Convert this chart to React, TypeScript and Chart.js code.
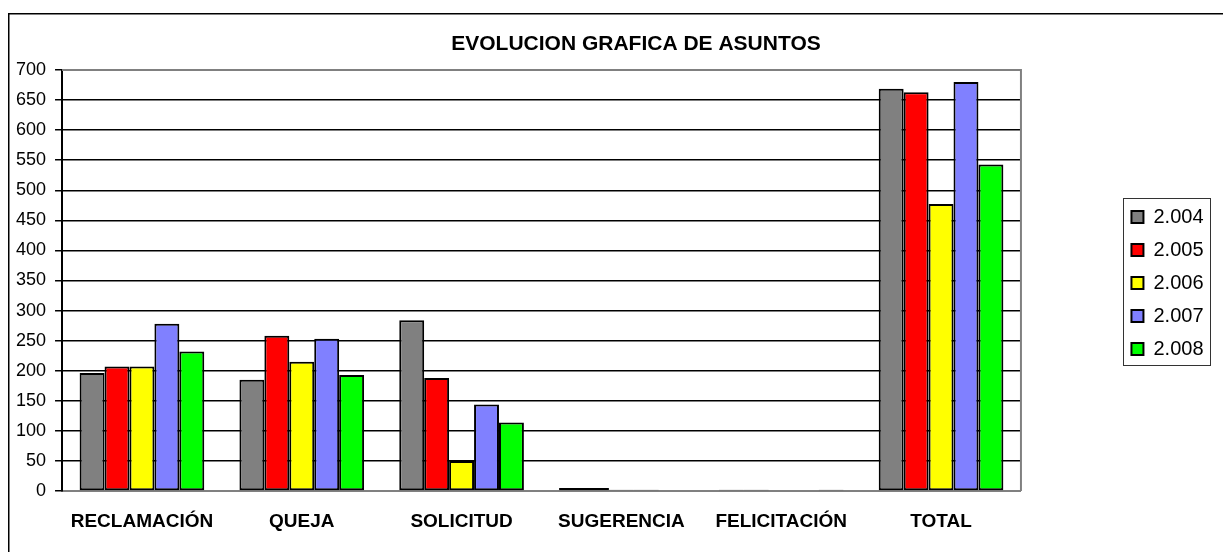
import React, { useEffect, useRef } from "react";
import { Chart, registerables } from "chart.js";

Chart.register(...registerables);

const categories = ["RECLAMACIÓN", "QUEJA", "SOLICITUD", "SUGERENCIA", "FELICITACIÓN", "TOTAL"];
const seriesNames = ["2.004", "2.005", "2.006", "2.007", "2.008"];
const values2004 = [196, 185, 284, 5, 2, 669];
const values2005 = [207, 258, 188, 5, 2, 663];
const values2006 = [207, 215, 50, 2, 0, 477];
const values2007 = [278, 253, 144, 2, 0, 680];
const values2008 = [232, 193, 114, 0, 2, 543];
const seriesColors = ["#808080", "#FF0000", "#FFFF00", "#8080FF", "#00FF00"];
const yTickMin = 0;
const yTickMax = 700;
const yTickStep = 50;
const titleText = "EVOLUCION GRAFICA DE ASUNTOS";

const FONT = "'Liberation Sans', Arial, Helvetica, sans-serif";
const TITLE_CENTER_X = 636;

const framePlugin = {
  id: "framePlugin",
  afterLayout(chart: any) {
    const t = chart.titleBlock;
    if (t) {
      const c = (t.left + t.right) / 2;
      const d = TITLE_CENTER_X - c;
      t.left += d;
      t.right += d;
    }
  },
  beforeDraw(chart: any) {
    const ctx = chart.ctx;
    ctx.save();
    ctx.strokeStyle = "#000";
    ctx.lineWidth = 1.5;
    ctx.beginPath();
    ctx.moveTo(8.75, 600);
    ctx.lineTo(8.75, 13.75);
    ctx.lineTo(1300, 13.75);
    ctx.stroke();
    ctx.restore();
  },
  beforeDatasetsDraw(chart: any) {
    const { ctx, chartArea } = chart;
    ctx.save();
    ctx.strokeStyle = "#808080";
    ctx.lineWidth = 2;
    ctx.beginPath();
    ctx.moveTo(chartArea.left, chartArea.top);
    ctx.lineTo(chartArea.right, chartArea.top);
    ctx.lineTo(chartArea.right, chartArea.bottom);
    ctx.stroke();
    ctx.restore();
  },
  afterDraw(chart: any) {
    const legend = chart.legend;
    if (!legend || !legend.legendHitBoxes || !legend.legendHitBoxes.length) return;
    const hb = legend.legendHitBoxes;
    const left = hb[0].left - 8;
    let right = 0;
    for (const h of hb) right = Math.max(right, h.left + h.width);
    right += 7;
    const top = hb[0].top - 9;
    const last = hb[hb.length - 1];
    const bottom = last.top + last.height + 6;
    const ctx = chart.ctx;
    ctx.save();
    ctx.strokeStyle = "#333";
    ctx.lineWidth = 1;
    ctx.strokeRect(Math.round(left) + 0.5, Math.round(top) + 0.5, Math.round(right - left), Math.round(bottom - top));
    ctx.restore();
  },
};

export default function App() {
  const canvasRef = useRef<HTMLCanvasElement | null>(null);

  useEffect(() => {
    if (!canvasRef.current) return;
    const seriesValues = [values2004, values2005, values2006, values2007, values2008];
    const chart = new Chart(canvasRef.current, {
      type: "bar",
      data: {
        labels: categories,
        datasets: seriesNames.map((name, i) => ({
          label: name,
          data: seriesValues[i],
          backgroundColor: seriesColors[i],
          borderColor: "#000",
          borderWidth: 2,
          borderSkipped: false,
          yAxisID: "y",
          categoryPercentage: 0.78,
          barPercentage: 1.0,
        })),
      },
      options: {
        responsive: false,
        animation: false,
        devicePixelRatio: 1,
        layout: { padding: { top: 14.2, left: 7, right: 9.5, bottom: 0.2 } },
        plugins: {
          title: {
            display: true,
            text: titleText,
            color: "#000",
            font: { family: FONT, size: 21, weight: "bold" },
            padding: { top: 17.2, bottom: 13.4 },
          },
          legend: {
            display: true,
            position: "right",
            labels: {
              color: "#000",
              font: { family: FONT, size: 20 },
              boxWidth: 12,
              boxHeight: 12,
              padding: 13,
            },
          },
          tooltip: { enabled: false },
        },
        scales: {
          x: {
            grid: { display: false, drawTicks: false },
            border: { display: true, color: "#808080", width: 2 },
            ticks: {
              color: "#000",
              font: { family: FONT, size: 19, weight: "bold" },
              padding: 19,
              autoSkip: false,
              maxRotation: 0,
            },
          },
          y: {
            min: yTickMin,
            max: yTickMax,
            grid: {
              color: (c: any) => (c.tick && (c.tick.value === 0 || c.tick.value === 700) ? "#808080" : "#000"),
              tickColor: "#000",
              lineWidth: 1.5,
              tickLength: 7,
              drawTicks: true,
            },
            border: { display: true, color: "#000", width: 2 },
            ticks: {
              stepSize: yTickStep,
              color: "#000",
              font: { family: FONT, size: 18 },
              padding: 9,
            },
          },
          y2: {
            position: "right",
            display: true,
            grid: { display: false, drawTicks: false },
            border: { display: false },
            ticks: { display: false },
            afterFit: (s: any) => {
              s.width = 97.5;
            },
          },
        },
      },
      plugins: [framePlugin],
    } as any);
    return () => chart.destroy();
  }, []);

  return (
    <div style={{ position: "absolute", left: 0, top: 0, width: 1223, height: 552, background: "#fff" }}>
      <canvas ref={canvasRef} width={1223} height={552} style={{ display: "block", width: 1223, height: 552 }} />
    </div>
  );
}
